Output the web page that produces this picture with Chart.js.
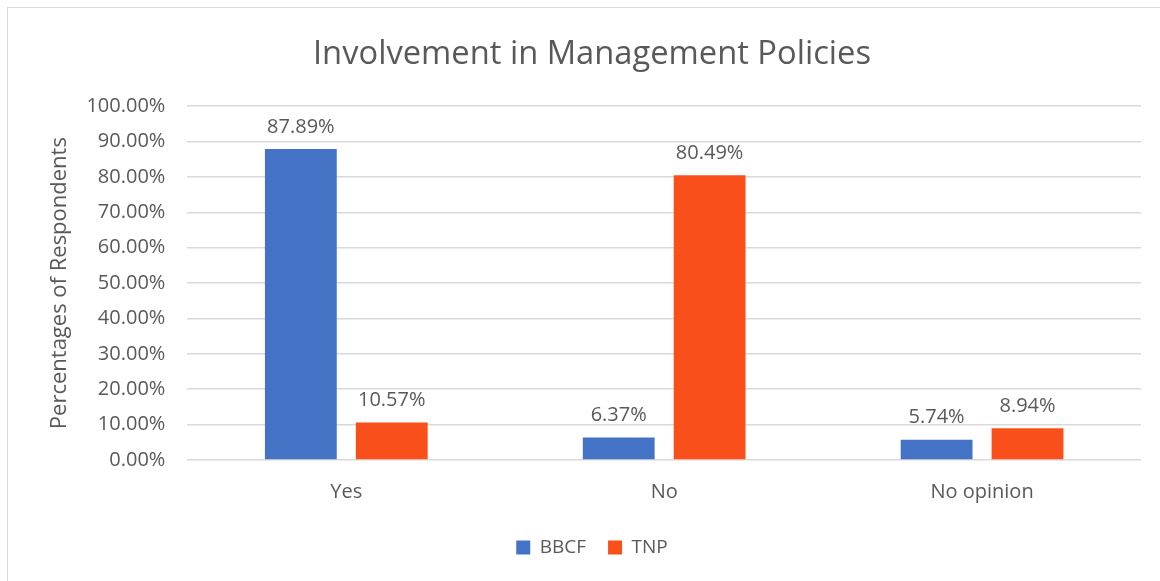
<!DOCTYPE html>
<html>
<head>
<meta charset="utf-8">
<script src="https://cdn.jsdelivr.net/npm/chart.js@4"></script>
<style>
  body { margin: 0; background: #fff; }
  #frame { position: absolute; left: 7px; top: 7px; width: 1160px; height: 581px; border: 1px solid #d9d9d9; box-sizing: border-box; }
  #grafico { position: absolute; left: 0; top: 0; }
</style>
</head>
<body>
<div id="frame"></div>
<canvas id="grafico" width="1160" height="581"></canvas>
<script>
const ctx = document.getElementById('grafico');

let categorias = ["Yes", "No", "No opinion"]
let bbcf = [87.89, 6.37, 5.74]
let tnp = [10.57, 80.49, 8.94]
let fonte = "'Open Sans', sans-serif"
let cinza = "#595959"

// rotulos de valor em cima das barras
const rotulos = {
  id: 'rotulos',
  afterDatasetsDraw(chart) {
    const c = chart.ctx
    c.save()
    c.font = "20px " + fonte
    c.fillStyle = cinza
    c.textAlign = 'center'
    c.textBaseline = 'bottom'
    chart.data.datasets.forEach((ds, i) => {
      chart.getDatasetMeta(i).data.forEach((bar, j) => {
        c.fillText(ds.data[j].toFixed(2) + '%', bar.x, bar.y - 12)
      })
    })
    c.restore()
  }
}

let grafico = new Chart(ctx, {
  type: 'bar',
  data: {
    labels: categorias,
    datasets: [
      { label: 'BBCF', data: bbcf, backgroundColor: '#4472C4' },
      { label: 'TNP', data: tnp, backgroundColor: '#F94F1B' }
    ]
  },
  plugins: [rotulos],
  options: {
    responsive: false,
    animation: false,
    categoryPercentage: 0.572,
    barPercentage: 0.79,
    layout: { padding: { left: 43, right: 19, top: 22, bottom: 14 } },
    plugins: {
      title: {
        display: true,
        text: 'Involvement in Management Policies',
        color: cinza,
        font: { family: fonte, size: 32.7, weight: 'normal' },
        padding: { top: 13, bottom: 32 }
      },
      legend: {
        position: 'bottom',
        labels: {
          color: cinza,
          font: { family: fonte, size: 19 },
          boxWidth: 14, boxHeight: 14,
          padding: 22
        }
      },
      tooltip: { enabled: false }
    },
    scales: {
      x: {
        grid: { display: false },
        border: { display: false },
        ticks: { color: cinza, font: { family: fonte, size: 20 }, padding: 12 }
      },
      y: {
        min: 0, max: 100,
        afterFit: s => { s.width -= 15 },
        ticks: {
          stepSize: 10,
          color: cinza,
          font: { family: fonte, size: 20 },
          padding: 22,
          callback: v => v.toFixed(2) + '%'
        },
        grid: { color: '#d9d9d9', lineWidth: 1.5, drawTicks: false },
        border: { display: false },
        title: {
          display: true,
          text: 'Percentages of Respondents',
          color: cinza,
          font: { family: fonte, size: 22 },
          padding: { bottom: 6 }
        }
      }
    }
  }
});
</script>
</body>
</html>
